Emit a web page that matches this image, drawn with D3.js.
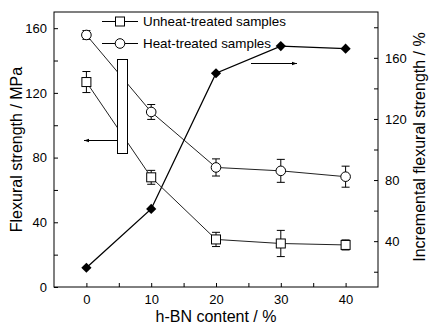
<!DOCTYPE html>
<html>
<head>
<meta charset="utf-8">
<script src="https://cdn.jsdelivr.net/npm/d3@7"></script>
<style>
  html, body { margin: 0; padding: 0; background: #fff; }
  svg { display: block; }
  text { font-family: "Liberation Sans", Arial, sans-serif; fill: #000; }
</style>
</head>
<body>
<svg id="chart" width="447" height="331"></svg>
<script>
// h-BN content (%)
const hbnContent = [0, 10, 20, 30, 40];
// Flexural strength (MPa) and error bars
const unheatStrength = [126.7, 67.8, 29.4, 26.9, 26.0];
const unheatError = [6.5, 4.3, 4.4, 8.1, 3.1];
const heatStrength = [155.8, 108.2, 73.9, 71.8, 68.2];
const heatError = [2.7, 4.6, 5.3, 7.1, 6.5];
// Incremental flexural strength (%)
const incremental = [22.6, 61.1, 149.9, 167.7, 166.0];

const xTicks = [0, 10, 20, 30, 40];
const leftTicks = [0, 40, 80, 120, 160];
const rightTicks = [40, 80, 120, 160];
const legendLabels = ["Unheat-treated samples", "Heat-treated samples"];

const margin = { left: 54, right: 69, top: 12, bottom: 44 };
const W = 447, H = 331;
const svg = d3.select("#chart");

const x = d3.scaleLinear().domain([-5, 45]).range([margin.left, W - margin.right]);
const yL = d3.scaleLinear().domain([0, 170]).range([H - margin.bottom, margin.top]);
const yR = d3.scaleLinear().domain([10, 190]).range([H - margin.bottom, margin.top]);

const fontTick = "13px";
const tickLen = 4;

// Axes with inward ticks
function styleAxis(g) {
  g.select(".domain").remove();
  g.selectAll("line").attr("stroke", "#000").attr("stroke-width", 1);
  g.selectAll("text").style("font-size", fontTick);
}

// bottom axis major + minor
const bottomMajor = d3.axisBottom(x).tickValues(xTicks).tickSizeInner(-tickLen).tickSizeOuter(0).tickPadding(8).tickFormat(d3.format("d"));
svg.append("g").attr("transform", `translate(0,${H - margin.bottom})`).call(bottomMajor).call(styleAxis);
const bottomMinor = d3.axisBottom(x).tickValues([5, 15, 25, 35]).tickSizeInner(-tickLen).tickSizeOuter(0).tickFormat("");
svg.append("g").attr("transform", `translate(0,${H - margin.bottom})`).call(bottomMinor).call(styleAxis);

// left axis
const leftMajor = d3.axisLeft(yL).tickValues(leftTicks).tickSizeInner(-tickLen).tickSizeOuter(0).tickPadding(7).tickFormat(d3.format("d"));
svg.append("g").attr("transform", `translate(${margin.left},0)`).call(leftMajor).call(styleAxis);
const leftMinor = d3.axisLeft(yL).tickValues([20, 60, 100, 140]).tickSizeInner(-tickLen).tickSizeOuter(0).tickFormat("");
svg.append("g").attr("transform", `translate(${margin.left},0)`).call(leftMinor).call(styleAxis);

// right axis
const rightMajor = d3.axisRight(yR).tickValues(rightTicks).tickSizeInner(-tickLen).tickSizeOuter(0).tickPadding(7).tickFormat(d3.format("d"));
svg.append("g").attr("transform", `translate(${W - margin.right},0)`).call(rightMajor).call(styleAxis);
const rightMinor = d3.axisRight(yR).tickValues([20, 60, 100, 140, 180]).tickSizeInner(-tickLen).tickSizeOuter(0).tickFormat("");
svg.append("g").attr("transform", `translate(${W - margin.right},0)`).call(rightMinor).call(styleAxis);

// frame
svg.append("rect")
  .attr("x", margin.left).attr("y", margin.top)
  .attr("width", W - margin.left - margin.right)
  .attr("height", H - margin.top - margin.bottom)
  .attr("fill", "none").attr("stroke", "#000").attr("stroke-width", 1);

// axis titles
svg.append("text")
  .attr("transform", `translate(22,${(margin.top + H - margin.bottom) / 2}) rotate(-90)`)
  .attr("text-anchor", "middle").style("font-size", "16px")
  .text("Flexural strength / MPa");
svg.append("text")
  .attr("transform", `translate(425,147) rotate(-90)`)
  .attr("text-anchor", "middle").style("font-size", "16px")
  .text("Incremental flexural strength / %");
svg.append("text")
  .attr("x", (margin.left + W - margin.right) / 2).attr("y", 322)
  .attr("text-anchor", "middle").style("font-size", "16px")
  .text("h-BN content / %");

// arrow marker
const defs = svg.append("defs");
defs.append("marker")
  .attr("id", "arrow").attr("viewBox", "0 0 10 10")
  .attr("refX", 10).attr("refY", 5)
  .attr("markerWidth", 10).attr("markerHeight", 5)
  .attr("markerUnits", "userSpaceOnUse")
  .attr("orient", "auto")
  .append("path").attr("d", "M0,1.5 L10,5 L0,8.5 Z").attr("fill", "#000");

// incremental line (right axis)
const incLine = d3.line()
  .x((d, i) => x(hbnContent[i]))
  .y(d => yR(d));
svg.append("path")
  .datum(incremental)
  .attr("d", incLine)
  .attr("fill", "none").attr("stroke", "#000").attr("stroke-width", 1.3);

// strength series
function drawSeries(values, errors, shape) {
  const line = d3.line().x((d, i) => x(hbnContent[i])).y(d => yL(d));
  svg.append("path").datum(values).attr("d", line)
    .attr("fill", "none").attr("stroke", "#222").attr("stroke-width", 1);
  const g = svg.append("g");
  values.forEach((v, i) => {
    const cx = x(hbnContent[i]);
    const top = yL(v + errors[i]), bot = yL(v - errors[i]);
    g.append("line").attr("x1", cx).attr("x2", cx).attr("y1", top).attr("y2", bot)
      .attr("stroke", "#000").attr("stroke-width", 1);
    [top, bot].forEach(yy => g.append("line")
      .attr("x1", cx - 4).attr("x2", cx + 4).attr("y1", yy).attr("y2", yy)
      .attr("stroke", "#000").attr("stroke-width", 1));
  });
  values.forEach((v, i) => {
    const cx = x(hbnContent[i]), cy = yL(v);
    if (shape === "square") {
      g.append("rect").attr("x", cx - 4.5).attr("y", cy - 4.5).attr("width", 9).attr("height", 9)
        .attr("fill", "#fff").attr("stroke", "#000").attr("stroke-width", 1);
    } else {
      g.append("circle").attr("cx", cx).attr("cy", cy).attr("r", 4.8)
        .attr("fill", "#fff").attr("stroke", "#000").attr("stroke-width", 1);
    }
  });
}
drawSeries(unheatStrength, unheatError, "square");
drawSeries(heatStrength, heatError, "circle");

// diamonds for incremental series
svg.append("g").selectAll("path.dia")
  .data(incremental).join("path")
  .attr("transform", (d, i) => `translate(${x(hbnContent[i])},${yR(d)}) rotate(45)`)
  .attr("d", d3.symbol(d3.symbolSquare, 52))
  .attr("fill", "#000");

// indicator box with arrow pointing to left axis
svg.append("rect").attr("x", 117.5).attr("y", 59.5).attr("width", 10).attr("height", 94)
  .attr("fill", "#fff").attr("stroke", "#000").attr("stroke-width", 1);
svg.append("line").attr("x1", 117.5).attr("x2", 84).attr("y1", 140.5).attr("y2", 140.5)
  .attr("stroke", "#000").attr("stroke-width", 1).attr("marker-end", "url(#arrow)");
// arrow pointing to right axis
svg.append("line").attr("x1", 251).attr("x2", 297).attr("y1", 63.5).attr("y2", 63.5)
  .attr("stroke", "#000").attr("stroke-width", 1).attr("marker-end", "url(#arrow)");

// legend
const legendRows = [
  { label: legendLabels[0], shape: "square", y: 21 },
  { label: legendLabels[1], shape: "circle", y: 43 }
];
legendRows.forEach(r => {
  svg.append("line").attr("x1", 102).attr("x2", 138).attr("y1", r.y + 0.5).attr("y2", r.y + 0.5)
    .attr("stroke", "#000").attr("stroke-width", 1);
  if (r.shape === "square") {
    svg.append("rect").attr("x", 115.5).attr("y", r.y - 4).attr("width", 9).attr("height", 9)
      .attr("fill", "#fff").attr("stroke", "#000");
  } else {
    svg.append("circle").attr("cx", 120).attr("cy", r.y + 0.5).attr("r", 4.8)
      .attr("fill", "#fff").attr("stroke", "#000");
  }
  svg.append("text").attr("x", 143).attr("y", r.y + 5).style("font-size", "13.4px").text(r.label);
});
</script>
</body>
</html>
